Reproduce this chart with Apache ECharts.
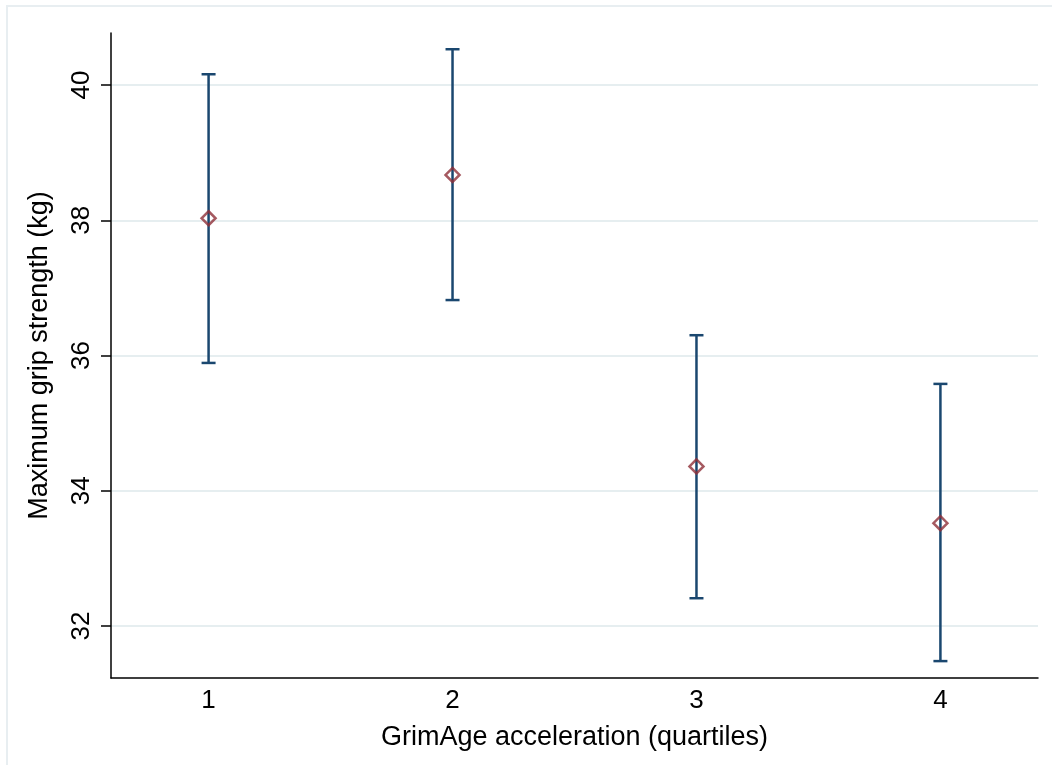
<!DOCTYPE html>
<html>
<head>
<meta charset="utf-8">
<script src="https://cdn.jsdelivr.net/npm/echarts@6/dist/echarts.min.js"></script>
<style>
  html, body { margin: 0; padding: 0; background: #fff; }
  #main { width: 1052px; height: 765px; }
</style>
</head>
<body>
<div id="main"></div>
<script>
// quartiles of GrimAge acceleration
const quartiles = [1, 2, 3, 4];
// mean grip strength and 95% CI
const means = [38.03, 38.67, 34.36, 33.52];
const lower = [35.89, 36.82, 32.41, 31.48];
const upper = [40.16, 40.53, 36.30, 35.58];
const yTicks = [32, 34, 36, 38, 40];

const font = "'Liberation Sans', Arial, sans-serif";
const navy = "#1a476f";
const maroon = "#8f3038";

let myChart = echarts.init(document.getElementById("main"));

const option = {
  animation: false,
  backgroundColor: "#fff",
  textStyle: { fontFamily: font },
  graphic: [
    {
      type: "rect",
      shape: { x: 7, y: 6, width: 1100, height: 800 },
      style: { fill: "none", stroke: "#e8eef1", lineWidth: 2 },
      z: -10
    }
  ],
  grid: { left: 111, right: 14, top: 33, bottom: 87 },
  xAxis: {
    type: "value",
    min: 0.6,
    max: 4.4,
    name: "GrimAge acceleration (quartiles)",
    nameLocation: "middle",
    nameGap: 46,
    nameTextStyle: { fontSize: 27, color: "#000", fontFamily: font },
    axisLine: { lineStyle: { color: "#000", width: 1.5 } },
    axisTick: { show: false },
    splitLine: { show: false },
    axisLabel: {
      customValues: quartiles,
      fontSize: 26,
      color: "#000",
      margin: 10,
      fontFamily: font
    }
  },
  yAxis: {
    type: "value",
    min: 31.23,
    max: 40.77,
    name: "Maximum grip strength (kg)",
    nameLocation: "middle",
    nameRotate: 90,
    nameGap: 58,
    nameTextStyle: { fontSize: 27, color: "#000", fontFamily: font },
    axisLine: { show: true, lineStyle: { color: "#000", width: 1.5 } },
    axisTick: {
      show: true,
      customValues: yTicks,
      length: 10,
      lineStyle: { color: "#000", width: 1.5 }
    },
    axisLabel: {
      customValues: yTicks,
      rotate: 90,
      fontSize: 26,
      color: "#000",
      margin: 16,
      fontFamily: font
    },
    splitLine: { show: true, lineStyle: { color: "#e6eef0", width: 2 } }
  },
  series: [
    {
      type: "custom",
      data: quartiles.map((q, i) => [q, lower[i], upper[i]]),
      renderItem: function (params, api) {
        const x = api.value(0);
        const lo = api.coord([x, api.value(1)]);
        const hi = api.coord([x, api.value(2)]);
        const cap = 7;
        const style = { stroke: navy, lineWidth: 2.5 };
        return {
          type: "group",
          children: [
            { type: "line", shape: { x1: lo[0], y1: lo[1], x2: hi[0], y2: hi[1] }, style: style },
            { type: "line", shape: { x1: hi[0] - cap, y1: hi[1], x2: hi[0] + cap, y2: hi[1] }, style: style },
            { type: "line", shape: { x1: lo[0] - cap, y1: lo[1], x2: lo[0] + cap, y2: lo[1] }, style: style }
          ]
        };
      },
      z: 2
    },
    {
      type: "scatter",
      data: quartiles.map((q, i) => [q, means[i]]),
      symbol: "diamond",
      symbolSize: 14,
      itemStyle: { color: "rgba(0,0,0,0)", borderColor: maroon, borderWidth: 2.5 },
      z: 3
    }
  ]
};

myChart.setOption(option);
</script>
</body>
</html>
